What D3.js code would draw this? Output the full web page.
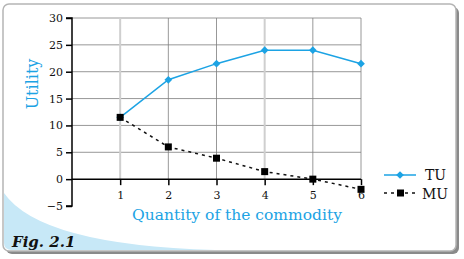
<!DOCTYPE html>
<html>
<head>
<meta charset="utf-8">
<script src="https://cdn.jsdelivr.net/npm/d3@7"></script>
<style>
  body { margin: 0; background: #fff; }
  text { font-family: "DejaVu Serif", serif; }
</style>
</head>
<body>
<svg id="chart" width="464" height="259"></svg>
<script>
// data
var quantity = [1, 2, 3, 4, 5, 6];
var tu = [11.5, 18.5, 21.5, 24, 24, 21.5];
var mu = [11.5, 6, 3.9, 1.4, 0, -1.9];
var yTicks = [-5, 0, 5, 10, 15, 20, 25, 30];
var gridY = [5, 10, 15, 20, 25, 30];

var blue = "#1ca3e4";

var svg = d3.select("#chart");

// frame with shadow
svg.append("rect")
  .attr("x", 6).attr("y", 7).attr("width", 453).attr("height", 247)
  .attr("rx", 6).style("fill", "#8a8a8a");
svg.append("rect")
  .attr("x", 3).attr("y", 4).attr("width", 453).attr("height", 247)
  .attr("rx", 6).style("fill", "#fff").style("stroke", "#b5b5b5").style("stroke-width", 1.5);

// light blue swoosh bottom-left
svg.append("path")
  .attr("d", "M4,193 Q40,245 215,250 L12,250 Q4,250 4,243 Z")
  .style("fill", "#c7e8f7");

var x = d3.scaleLinear().domain([0, 6]).range([72, 361]);
var y = d3.scaleLinear().domain([-5, 30]).range([206, 18]);

var g = svg.append("g");

// horizontal grid
g.selectAll(".hg").data(gridY).enter().append("line")
  .attr("x1", x(0)).attr("x2", x(6))
  .attr("y1", function (d) { return y(d); })
  .attr("y2", function (d) { return y(d); })
  .style("stroke", "#7d7d7d").style("stroke-width", 0.8);

// vertical grid
g.selectAll(".vg").data(quantity).enter().append("line")
  .attr("x1", function (d) { return x(d); })
  .attr("x2", function (d) { return x(d); })
  .attr("y1", y(30)).attr("y2", y(0))
  .style("stroke", function (d) { return (d == 1 || d == 4) ? "#cfcfcf" : "#7d7d7d"; })
  .style("stroke-width", function (d) { return (d == 1 || d == 4) ? 2 : 0.8; });

// y axis
g.append("g")
  .attr("transform", "translate(" + x(0) + ",0)")
  .call(d3.axisLeft(y).tickValues(yTicks).tickSize(6).tickPadding(3))
  .call(function (a) {
    a.select(".domain").attr("d", "M-6," + y(-5) + "H0V" + y(30) + "H-6").style("stroke-width", 1.5);
    a.selectAll(".tick line").style("stroke-width", 1.5);
    a.selectAll("text").style("font-size", "11px").style("fill", "#111");
  });

// x axis at zero
g.append("g")
  .attr("transform", "translate(0," + y(0) + ")")
  .call(d3.axisBottom(x).tickValues(quantity).tickFormat(d3.format("d")).tickSize(6).tickPadding(6))
  .call(function (a) {
    a.select(".domain").attr("d", "M" + x(0) + ",0H" + x(6)).style("stroke-width", 1.5);
    a.selectAll(".tick line").style("stroke-width", 1.5);
    a.selectAll("text").style("font-size", "11px").style("fill", "#111");
  });

// TU line
var line = d3.line()
  .x(function (d, i) { return x(quantity[i]); })
  .y(function (d) { return y(d); });

g.append("path").datum(tu).attr("d", line)
  .style("fill", "none").style("stroke", blue).style("stroke-width", 1.5);

var diamond = d3.symbol().type(d3.symbolSquare).size(30);
g.selectAll(".tu").data(tu).enter().append("path")
  .attr("d", diamond)
  .attr("transform", function (d, i) { return "translate(" + x(quantity[i]) + "," + y(d) + ")rotate(45)"; })
  .style("fill", blue);

// MU line
g.append("path").datum(mu).attr("d", line)
  .style("fill", "none").style("stroke", "#111").style("stroke-width", 1.5)
  .style("stroke-dasharray", "3,4");

g.selectAll(".mu").data(mu).enter().append("rect")
  .attr("x", function (d, i) { return x(quantity[i]) - 3.5; })
  .attr("y", function (d) { return y(d) - 3.5; })
  .attr("width", 7).attr("height", 7)
  .style("fill", "#000");

// axis titles
svg.append("text")
  .attr("text-anchor", "middle")
  .attr("transform", "translate(38,84)rotate(-90)")
  .style("font-size", "16px").style("fill", blue)
  .text("Utility");

svg.append("text")
  .attr("x", 237).attr("y", 220)
  .attr("text-anchor", "middle")
  .style("font-size", "15.5px").style("fill", blue)
  .text("Quantity of the commodity");

// legend
var leg = svg.append("g");
leg.append("line").attr("x1", 384).attr("x2", 416).attr("y1", 175).attr("y2", 175)
  .style("stroke", blue).style("stroke-width", 1.5);
leg.append("path").attr("d", diamond).attr("transform", "translate(400,175)rotate(45)").style("fill", blue);
leg.append("text").attr("x", 425).attr("y", 180).style("font-size", "14px").style("fill", "#111").text("TU");

leg.append("line").attr("x1", 384).attr("x2", 418).attr("y1", 193).attr("y2", 193)
  .style("stroke", "#111").style("stroke-width", 1.5).style("stroke-dasharray", "3,4");
leg.append("rect").attr("x", 397).attr("y", 189.5).attr("width", 7).attr("height", 7).style("fill", "#000");
leg.append("text").attr("x", 422).attr("y", 199).style("font-size", "14px").style("fill", "#111").text("MU");

// figure label
svg.append("text")
  .attr("x", 12).attr("y", 247)
  .style("font-size", "15px").style("font-weight", "bold").style("font-style", "italic")
  .style("fill", "#111")
  .text("Fig. 2.1");
</script>
</body>
</html>
